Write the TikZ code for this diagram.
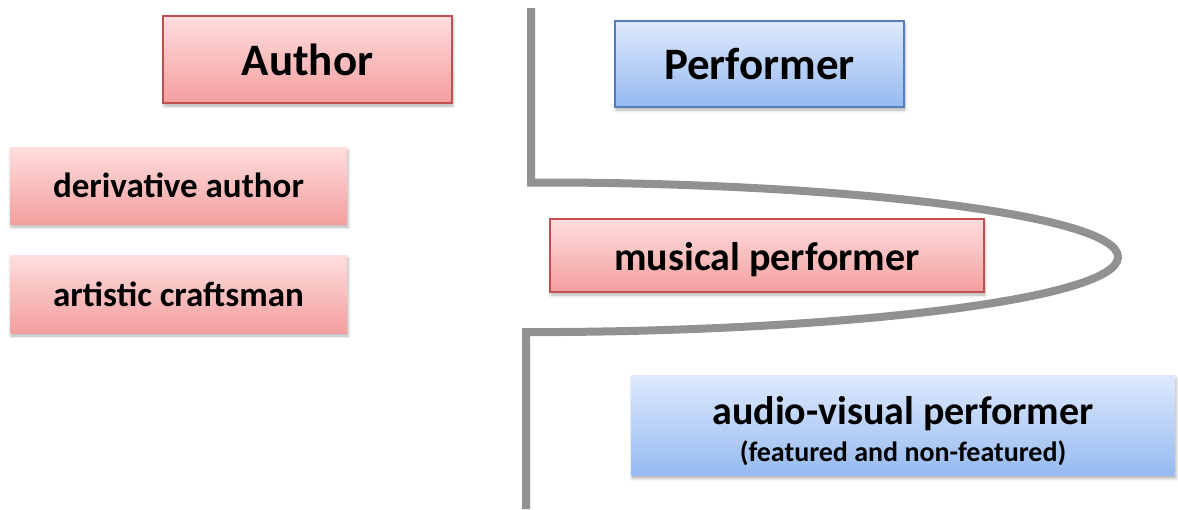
\documentclass[tikz,border=0pt]{standalone}
\usepackage{fontspec}
\setmainfont{Carlito}
\usetikzlibrary{shadows.blur}
\definecolor{pinktop}{RGB}{255,222,222}
\definecolor{pinkbot}{RGB}{243,158,158}
\definecolor{pinkline}{RGB}{190,80,80}
\definecolor{bluetop}{RGB}{222,233,253}
\definecolor{bluebot}{RGB}{150,186,240}
\definecolor{blueline}{RGB}{85,125,190}
\definecolor{divgray}{RGB}{145,145,145}

\begin{document}
\begin{tikzpicture}[x=1pt,y=-1pt,
  every node/.style={inner sep=0pt,font=\bfseries},
  box/.style={rectangle,blur shadow={shadow xshift=1pt,shadow yshift=-3pt,shadow blur radius=3pt,shadow opacity=30}},
  redbox/.style={box,top color=pinktop,bottom color=pinkbot},
  bluebox/.style={box,top color=bluetop,bottom color=bluebot},
  big/.style={font=\bfseries\fontsize{45}{50}\selectfont},
  mid/.style={font=\bfseries\fontsize{40}{44}\selectfont},
  small/.style={font=\bfseries\fontsize{35}{40}\selectfont}]
\useasboundingbox (0,0) rectangle (1178,509);
% the two headings
\node [redbox,draw=pinkline,line width=1.2pt,big,minimum width=289,minimum height=87] (author) at (307.5,59.5) {Author};
\node [bluebox,draw=blueline,line width=1.2pt,big,minimum width=289,minimum height=86] (performer) at (759.5,64) {Performer};
% left side
\node [redbox,small,minimum width=337,minimum height=77] (derivative) at (178.5,185.5) {derivative author};
\node [redbox,small,minimum width=337,minimum height=78] (craftsman) at (178.5,294) {artistic craftsman};
% right side
\node [redbox,draw=pinkline,line width=1.2pt,mid,minimum width=434,minimum height=73] (musical) at (767,255.5) {\raisebox{-4pt}[\height][\depth]{musical performer}};
\node [bluebox,font=\bfseries\fontsize{40}{44}\selectfont,minimum width=544,minimum height=100] (audiovisual) at (903,425.5)
  {\raisebox{-9pt}[\height][\depth]{\begin{tabular}{@{}c@{}}audio-visual performer\\[-7pt]{\fontsize{28}{30}\selectfont (featured and non-featured)}\end{tabular}}};
% divider
\draw [divgray,line width=8pt,miter limit=10] (531,8) -- (531,182.5) -- (560,182.5)
  .. controls (850,184) and (1118,215) .. (1118,257)
  .. controls (1118,299) and (850,330) .. (560,332) -- (526,332) -- (526,509);
\end{tikzpicture}
\end{document}
